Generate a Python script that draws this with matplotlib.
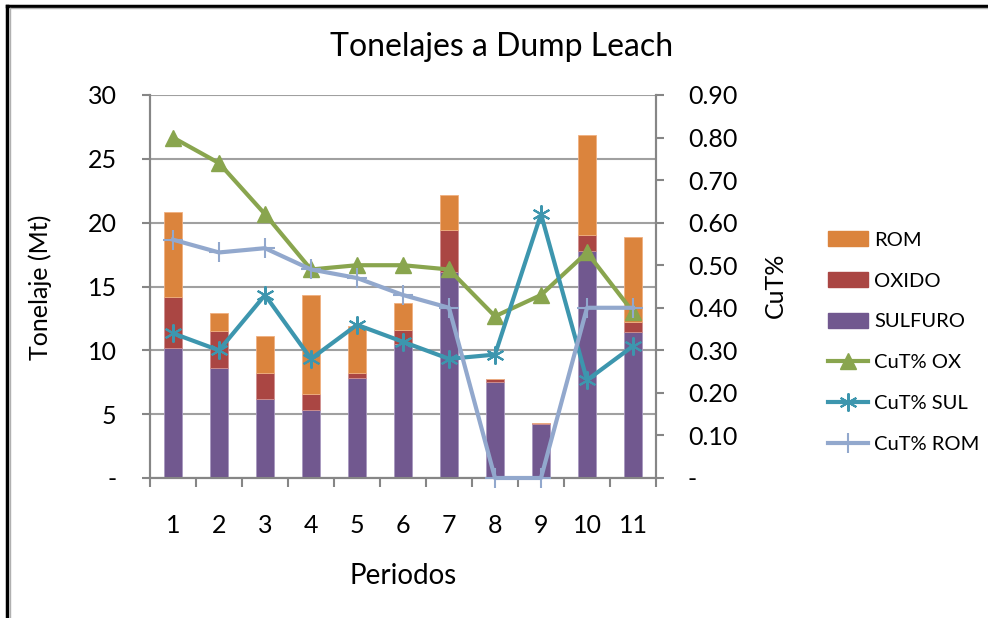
"""Tonelajes a Dump Leach: stacked tonnage bars with CuT% grade lines."""

import matplotlib

matplotlib.use("Agg")
import matplotlib.pyplot as plt
import numpy as np
from matplotlib.lines import Line2D
from matplotlib.patches import Patch

periodos = ["1", "2", "3", "4", "5", "6", "7", "8", "9", "10", "11"]

# Stacked tonnage [Mt]
sulfuro = [10.2, 8.6, 6.2, 5.3, 7.8, 10.5, 16.1, 7.5, 4.2, 17.8, 11.4]
oxido = [4.0, 2.9, 2.0, 1.3, 0.4, 1.1, 3.3, 0.25, 0.1, 1.2, 0.8]
rom = [6.6, 1.4, 2.9, 7.7, 3.7, 2.1, 2.8, 0.0, 0.0, 7.9, 6.65]

# Copper grades [%]
cut_ox = [0.80, 0.74, 0.62, 0.49, 0.50, 0.50, 0.49, 0.38, 0.43, 0.53, 0.39]
cut_sul = [0.34, 0.30, 0.43, 0.28, 0.36, 0.32, 0.28, 0.29, 0.62, 0.23, 0.31]
cut_rom = [0.56, 0.53, 0.54, 0.49, 0.47, 0.43, 0.40, 0.0, 0.0, 0.40, 0.40]

C_SUL = "#71588F"
C_OXI = "#AA4643"
C_ROM = "#DB843D"
C_LOX = "#89A54E"
C_LSUL = "#3D96AE"
C_LROM = "#92A8CD"
GRID = "#A0A0A0"
AXC = "#868686"

plt.rcParams["font.family"] = ["Lato", "DejaVu Sans"]

fig = plt.figure(figsize=(9.88, 6.18), dpi=100)
ax = fig.add_axes([150 / 988, 140 / 618, 506 / 988, 383 / 618])
ax2 = ax.twinx()

x = np.arange(len(periodos))
w = 0.41
bottom2 = np.array(sulfuro) + np.array(oxido)
ax.bar(x, sulfuro, w, color=C_SUL, edgecolor="#A898BF", linewidth=0.6, zorder=2)
ax.bar(x, oxido, w, bottom=sulfuro, color=C_OXI, edgecolor="#D09090", linewidth=0.6, zorder=2)
ax.bar(x, rom, w, bottom=bottom2, color=C_ROM, edgecolor="#F0B080", linewidth=0.6, zorder=2)

ax.set_xlim(-0.5, len(periodos) - 0.5)
ax.set_ylim(0, 30)
ax.set_yticks(np.arange(0, 31, 5))
ax.set_yticklabels(["-", "5", "10", "15", "20", "25", "30"], fontsize=18)
ax.yaxis.grid(True, color=GRID, linewidth=1.5, zorder=0)
ax.set_axisbelow(True)
ax.set_xticks(x)
ax.set_xticklabels(periodos, fontsize=18)
ax.set_xticks(np.arange(-0.5, len(periodos)), minor=True)
ax.tick_params(axis="x", which="major", length=0, pad=26)
ax.tick_params(axis="x", which="minor", length=6.5, width=1.5, color=AXC)
ax.tick_params(axis="y", length=6, width=1.5, color=AXC, pad=18)

lw = 3.0
ax2.plot(x, cut_ox, color=C_LOX, lw=lw, marker="^", ms=11, clip_on=False, zorder=3)
ax2.plot(x, cut_sul, color=C_LSUL, lw=lw, marker=(6, 2, 0), ms=13, mew=1.5,
         clip_on=False, zorder=3)
ax2.plot(x, cut_rom, color=C_LROM, lw=lw, marker="+", ms=14, mew=1.5,
         clip_on=False, zorder=3)
ax2.set_ylim(0, 0.9)
ax2.set_yticks(np.arange(0, 0.91, 0.1))
ax2.set_yticklabels(["-"] + [f"{v:.2f}" for v in np.arange(0.1, 0.91, 0.1)], fontsize=18)
ax2.tick_params(axis="y", length=6, width=1.5, color=AXC, pad=17)

for a in (ax, ax2):
    a.spines["top"].set_visible(False)
    for s in ("left", "right", "bottom"):
        a.spines[s].set_color(AXC)
        a.spines[s].set_linewidth(1.5)

fig.text(502 / 988, 1 - 47 / 618, "Tonelajes a Dump Leach", fontsize=23,
         ha="center", va="center")
fig.text(40 / 988, 1 - 287 / 618, "Tonelaje (Mt)", fontsize=18, rotation=90,
         ha="center", va="center")
fig.text(775 / 988, 1 - 285 / 618, "CuT%", fontsize=18, rotation=90,
         ha="center", va="center")
fig.text(403 / 988, 1 - 576 / 618, "Periodos", fontsize=20, ha="center", va="center")

handles = [
    Patch(color=C_ROM, label="ROM"),
    Patch(color=C_OXI, label="OXIDO"),
    Patch(color=C_SUL, label="SULFURO"),
    Line2D([], [], color=C_LOX, lw=lw, marker="^", ms=11, label="CuT% OX"),
    Line2D([], [], color=C_LSUL, lw=lw, marker=(6, 2, 0), ms=13, mew=1.5, label="CuT% SUL"),
    Line2D([], [], color=C_LROM, lw=lw, marker="+", ms=14, mew=1.5, label="CuT% ROM"),
]
fig.legend(handles=handles, loc="center left", bbox_to_anchor=(818 / 988, 1 - 342 / 618),
           frameon=False, fontsize=14.5, handlelength=2.0, handleheight=0.8,
           labelspacing=1.15, handletextpad=0.3, borderpad=0)

# chart frame (only left and top edges are inside the image)
fig.add_artist(Line2D([7 / 988, 7 / 988], [0, 1 - 6 / 618], color="black", lw=2.5,
                      transform=fig.transFigure))
fig.add_artist(Line2D([7 / 988, 1], [1 - 6 / 618, 1 - 6 / 618], color="black", lw=2.5,
                      transform=fig.transFigure))
fig.add_artist(Line2D([9.5 / 988, 9.5 / 988], [0, 1 - 8 / 618], color="#B0B0B0", lw=1,
                      transform=fig.transFigure))
fig.add_artist(Line2D([9.5 / 988, 1], [1 - 8 / 618, 1 - 8 / 618], color="#B0B0B0", lw=1,
                      transform=fig.transFigure))

fig.savefig("out.png", dpi=100)
plt.close(fig)
